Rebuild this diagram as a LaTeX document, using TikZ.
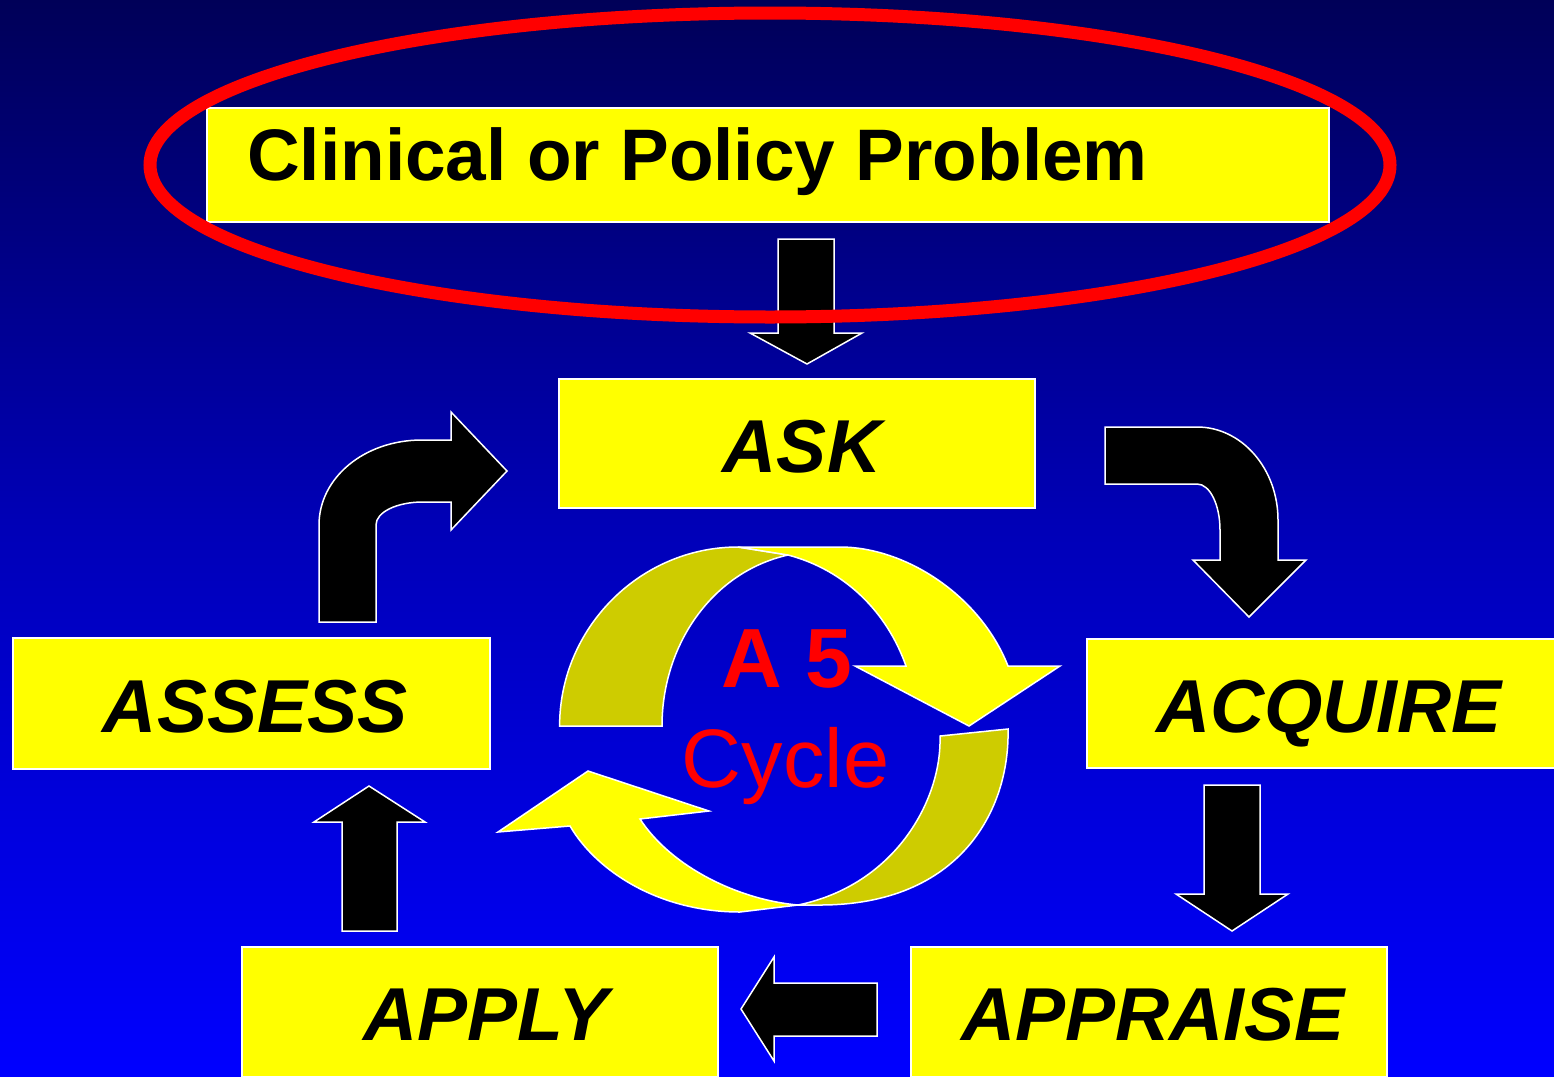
\documentclass[tikz,border=0pt]{standalone}
\usepackage{fontspec}
\setmainfont{Liberation Sans}
\definecolor{ylw}{RGB}{255,255,0}
\definecolor{olv}{RGB}{206,204,0}
\definecolor{topblue}{RGB}{0,0,88}
\definecolor{midblue}{RGB}{0,0,185}
\definecolor{botblue}{RGB}{0,0,255}
\definecolor{redtxt}{RGB}{255,0,0}
\begin{document}
\begin{tikzpicture}[x=1pt,y=-1pt,
  box/.style={draw=white, line width=1.5pt, fill=ylw, inner sep=0pt, rectangle},
  lbl/.style={inner sep=0pt, anchor=base, font=\fontsize{75}{90}\selectfont\bfseries\itshape},
  blockarrow/.style={fill=black, draw=white, line width=1.5pt, line join=miter},
  ribbonlight/.style={fill=ylw, draw=white, line width=1.5pt},
  ribbondark/.style={fill=olv, draw=white, line width=1.5pt},
  redlbl/.style={inner sep=0pt, anchor=base, text=redtxt}]
\useasboundingbox (0,0) rectangle (1554,1076);
\clip (0,0) rectangle (1554,1076);
\fill[top color=topblue, bottom color=botblue, middle color=midblue] (0,0) rectangle (1554,1076);

% boxes
\node[box, minimum width=1122pt, minimum height=114pt] (clin) at (768,165) {};
\node[box, minimum width=476pt, minimum height=129pt] (ask) at (797,443.5) {};
\node[box, minimum width=477pt, minimum height=131pt] (assess) at (251.5,703.5) {};
\node[box, minimum width=476pt, minimum height=129pt] (acquire) at (1325,703.5) {};
\node[box, minimum width=476pt, minimum height=130pt] (apply) at (480,1012) {};
\node[box, minimum width=476pt, minimum height=130pt] (appraise) at (1149,1012) {};

% labels
\node[inner sep=0pt, anchor=base west, font=\fontsize{73}{88}\selectfont\bfseries] (tclin) at (247,180) {Clinical or Policy Problem};
\node[lbl] (task) at (802,472) {ASK};
\node[lbl] (tassess) at (255,732) {ASSESS};
\node[lbl] (tacquire) at (1329,732) {ACQUIRE};
\node[lbl] (tapply) at (486,1040) {APPLY};
\node[lbl] (tappraise) at (1153,1040) {APPRAISE};

% straight block arrows
\draw[blockarrow] (778,239) -- (834,239) -- (834,333) -- (862,333) -- (807,364) -- (750,333) -- (778,333) -- cycle;
\draw[blockarrow] (1204,785) -- (1260,785) -- (1260,894) -- (1288,894) -- (1232,931) -- (1176,894) -- (1204,894) -- cycle;
\draw[blockarrow] (342,931) -- (397,931) -- (397,822) -- (425,822) -- (369,786) -- (314,822) -- (342,822) -- cycle;
\draw[blockarrow] (877,983) -- (877,1036) -- (774,1036) -- (774,1061) -- (741,1009) -- (774,957) -- (774,983) -- cycle;

% curved block arrows
\draw[blockarrow] (319,622) -- (319,525) .. controls (319,478) and (364,440) .. (422,440)
  -- (451,440) -- (451,412) -- (507,471) -- (451,530) -- (451,502) -- (423,502)
  .. controls (397,502) and (376,512) .. (376,525) -- (376,622) -- cycle;
\draw[blockarrow] (1105,427) -- (1197,427) .. controls (1242,427) and (1278,469) .. (1278,520)
  -- (1278,560) -- (1306,560) -- (1249,617) -- (1193,560) -- (1220,560) -- (1220,530)
  .. controls (1220,505) and (1210,484) .. (1197,484) -- (1105,484) -- cycle;

% cycle ribbons
\draw[ribbondark] (559.6,726) .. controls (559.6,628) and (640,547) .. (738,547)
  -- (788,555) .. controls (712,572) and (662,645) .. (662,726) -- cycle;
\draw[ribbonlight] (738,547) -- (840,547) .. controls (905,547) and (980,595) .. (1008,666)
  -- (1060,666) -- (969,726) -- (855,666) -- (906,666)
  .. controls (887,612) and (845,570) .. (788,555) -- cycle;
\draw[ribbondark] (940,736) -- (1008,729) .. controls (1010,810) and (960,905) .. (820,905)
  -- (798,905) .. controls (895,885) and (942,800) .. (940,736) -- cycle;
\draw[ribbonlight] (798,905) .. controls (740,900) and (672,868) .. (640,819)
  -- (709,811) -- (588,771) -- (498,832) -- (570,826)
  .. controls (597,872) and (660,912) .. (740,912) -- cycle;

\node[redlbl, font=\fontsize{84}{100}\selectfont\bfseries] (ta5) at (786.5,687) {A 5};
\node[redlbl, font=\fontsize{83}{100}\selectfont] (tcycle) at (785.5,787) {Cycle};

% red ellipse
\draw[redtxt, line width=13pt] (770,165) ellipse [x radius=620, y radius=152];
\end{tikzpicture}
\end{document}
